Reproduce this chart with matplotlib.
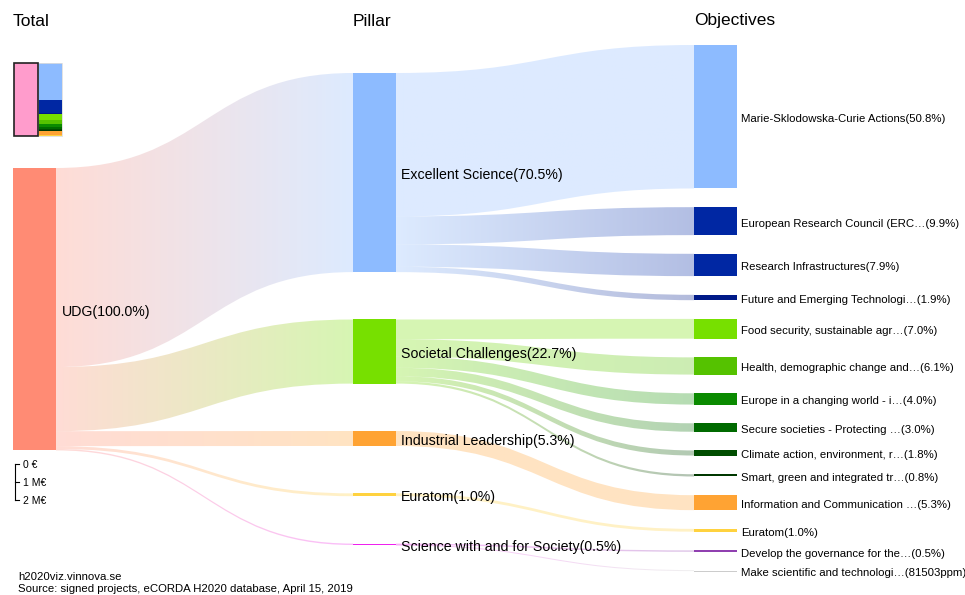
import matplotlib
matplotlib.use("Agg")
import matplotlib.pyplot as plt
import numpy as np
from matplotlib.path import Path
from matplotlib.patches import PathPatch, Rectangle
from matplotlib.colors import to_rgb

plt.rcParams['font.family'] = ['Liberation Sans', 'DejaVu Sans']

# ---------------- data ----------------
column_titles = ["Total", "Pillar", "Objectives"]
total_name = "UDG"
total_share = 100.0
total_color = "#ff8b74"

pillar_names = ["Excellent Science", "Societal Challenges", "Industrial Leadership",
                "Euratom", "Science with and for Society"]
pillar_share = [70.5, 22.7, 5.3, 1.0, 0.5]
pillar_colors = ["#8dbbff", "#77e000", "#ffa333", "#ffd23f", "#ee22ee"]

objective_names = ["Marie-Sklodowska-Curie Actions", "European Research Council (ERC…",
                   "Research Infrastructures", "Future and Emerging Technologi…",
                   "Food security, sustainable agr…", "Health, demographic change and…",
                   "Europe in a changing world - i…", "Secure societies - Protecting …",
                   "Climate action, environment, r…", "Smart, green and integrated tr…",
                   "Information and Communication …", "Euratom",
                   "Develop the governance for the…", "Make scientific and technologi…"]
objective_share = [50.8, 9.9, 7.9, 1.9, 7.0, 6.1, 4.0, 3.0, 1.8, 0.8, 5.3, 1.0, 0.5, 0.08]
objective_share_text = ["50.8%", "9.9%", "7.9%", "1.9%", "7.0%", "6.1%", "4.0%", "3.0%",
                        "1.8%", "0.8%", "5.3%", "1.0%", "0.5%", "81503ppm"]
objective_pillar = [0, 0, 0, 0, 1, 1, 1, 1, 1, 1, 2, 3, 4, 4]
objective_colors = ["#8dbbff", "#0027a3", "#0027a3", "#001a88",
                    "#77e000", "#55c200", "#0a8a00", "#006a00", "#004d00", "#003800",
                    "#ffa333", "#ffd23f", "#9040b0", "#cccccc"]

scale_ticks = ["0 €", "1 M€", "2 M€"]
footer_lines = ["h2020viz.vinnova.se",
                "Source: signed projects, eCORDA H2020 database, April 15, 2019"]

# ---------------- layout ----------------
W, H = 965, 595
K = 2.824                    # px per percent
col_x = [13, 353, 694]
node_w = 43
col_top = [168, 73, 45]
col_gap = [0, 47.4, 18.7]
LINK_ALPHA = 0.3

fig = plt.figure(figsize=(W / 100, H / 100), dpi=100)
ax = fig.add_axes([0, 0, 1, 1])
ax.axis('off')


def draw_link(xs, ys, xt, yt, w, c0, c1):
    if w < 1.0:
        ys -= (1.0 - w) / 2
        yt -= (1.0 - w) / 2
        w = 1.0
    xm = (xs + xt) / 2
    verts = [(xs, ys), (xm, ys), (xm, yt), (xt, yt), (xt, yt + w),
             (xm, yt + w), (xm, ys + w), (xs, ys + w), (xs, ys)]
    codes = [Path.MOVETO, Path.CURVE4, Path.CURVE4, Path.CURVE4, Path.LINETO,
             Path.CURVE4, Path.CURVE4, Path.CURVE4, Path.CLOSEPOLY]
    patch = PathPatch(Path(verts, codes), facecolor='none', edgecolor='none')
    ax.add_patch(patch)
    a = np.array(to_rgb(c0)); b = np.array(to_rgb(c1))
    t = np.linspace(0, 1, 256)[:, None]
    rgb = a * (1 - t) + b * t
    img = np.zeros((1, 256, 4))
    img[0, :, :3] = rgb
    img[0, :, 3] = LINK_ALPHA
    top = min(ys, yt) - 2
    bot = max(ys, yt) + w + 2
    im = ax.imshow(img, extent=(xs, xt, bot, top), aspect='auto',
                   interpolation='bilinear', zorder=1)
    im.set_clip_path(patch)


# node positions
tot_y = col_top[0]
tot_h = total_share * K
p_y = []
y = col_top[1]
for v in pillar_share:
    p_y.append(y)
    y += v * K + col_gap[1]
o_y = []
y = col_top[2]
for v in objective_share:
    o_y.append(y)
    y += v * K + col_gap[2]

# links total -> pillars
off = tot_y
for i, v in enumerate(pillar_share):
    w = v * K
    draw_link(col_x[0] + node_w, off, col_x[1], p_y[i], w, total_color, pillar_colors[i])
    off += w

# links pillars -> objectives
p_off = list(p_y)
for j, v in enumerate(objective_share):
    p = objective_pillar[j]
    w = v * K
    draw_link(col_x[1] + node_w, p_off[p], col_x[2], o_y[j], w,
              pillar_colors[p], objective_colors[j])
    p_off[p] += w

# nodes
ax.add_patch(Rectangle((col_x[0], tot_y), node_w, tot_h, facecolor=total_color,
                       edgecolor='none', zorder=3))
ax.text(col_x[0] + node_w + 6, tot_y + tot_h / 2 + 3, f"{total_name}({total_share:.1f}%)",
        va='center', ha='left', fontsize=10.2, zorder=5)
for i, v in enumerate(pillar_share):
    h = max(v * K, 1.0)
    ax.add_patch(Rectangle((col_x[1], p_y[i]), node_w, h, facecolor=pillar_colors[i],
                           edgecolor='none', zorder=3))
    ax.text(col_x[1] + node_w + 5, p_y[i] + v * K / 2 + 2.5, f"{pillar_names[i]}({v:.1f}%)",
            va='center', ha='left', fontsize=10.2, zorder=5)
for j, v in enumerate(objective_share):
    h = max(v * K, 1.0)
    ax.add_patch(Rectangle((col_x[2], o_y[j]), node_w, h, facecolor=objective_colors[j],
                           edgecolor='none', zorder=3))
    ax.text(col_x[2] + node_w + 4, o_y[j] + v * K / 2 + 2.5,
            f"{objective_names[j]}({objective_share_text[j]})",
            va='center', ha='left', fontsize=8.2, zorder=5)

# column titles
for i, t in enumerate(column_titles):
    ax.text(col_x[i], 21, t, va='center', ha='left', fontsize=12.5)

# mini overview
mini_top, mini_h = 63, 73
ax.add_patch(Rectangle((13.5, mini_top), 24, mini_h, facecolor='#ff9ccc',
                       edgecolor='#222222', lw=1.2, zorder=4))
tot_obj = sum(objective_share)
y = mini_top
for j, v in enumerate(objective_share):
    h = mini_h * v / tot_obj
    ax.add_patch(Rectangle((38, y), 24, h, facecolor=objective_colors[j],
                           edgecolor='none', zorder=3))
    y += h
ax.add_patch(Rectangle((38, mini_top), 24, mini_h, facecolor='none',
                       edgecolor='#dddddd', lw=0.6, zorder=3))

# scale legend
sy = [464, 482, 500]
ax.plot([15, 15], [sy[0], sy[-1]], color='black', lw=0.8)
for yy, t in zip(sy, scale_ticks):
    ax.plot([15, 19], [yy, yy], color='black', lw=0.8)
    ax.text(23, yy + 0.5, t, va='center', ha='left', fontsize=7.5)

# footer
ax.text(18, 577.5, footer_lines[0], va='center', ha='left', fontsize=8.2)
ax.text(18, 588.5, footer_lines[1], va='center', ha='left', fontsize=8.2)

ax.set_xlim(0, W)
ax.set_ylim(H, 0)
fig.savefig("out.png", dpi=100, facecolor='white')
